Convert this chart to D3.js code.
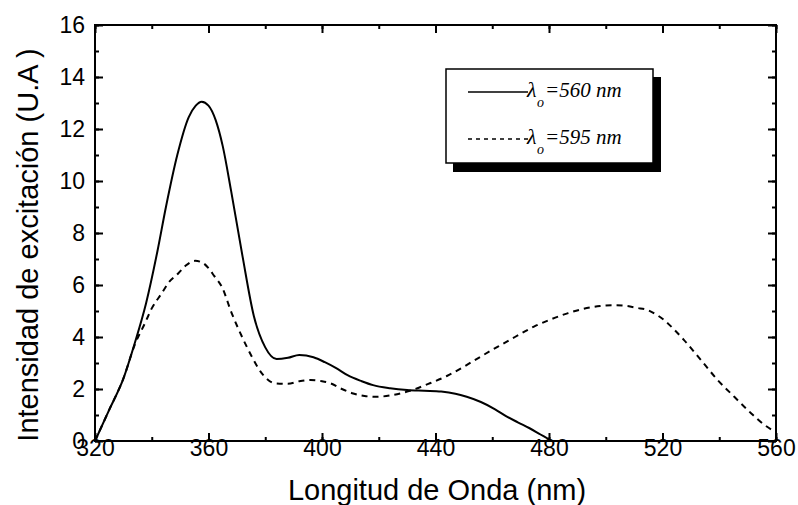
<!DOCTYPE html>
<html><head><meta charset="utf-8">
<script src="https://cdn.jsdelivr.net/npm/d3@7"></script>
<style>body{margin:0;background:#fff}svg{display:block}</style>
</head><body>
<svg id="chart" width="798" height="505"></svg>
<script>
// ---- data ----
const xTicks = [320, 360, 400, 440, 480, 520, 560];
const yTicks = [0, 2, 4, 6, 8, 10, 12, 14, 16];
const seriesNames = ["=560 nm", "=595 nm"];
const wl560 = [320, 325, 330, 334, 338, 342, 345, 349, 353, 355.5, 357.6, 360, 362.5, 365, 368, 372, 376, 380, 384, 388, 392, 397, 401, 405, 409, 414, 418, 424, 430, 436, 442, 447, 451, 456, 461, 465, 469, 473, 477, 481];
const int560 = [0, 1.2, 2.4, 3.76, 5.3, 7.3, 9.0, 11.0, 12.45, 12.9, 13.05, 12.9, 12.35, 11.35, 9.6, 7.1, 4.8, 3.6, 3.15, 3.2, 3.31, 3.22, 3.03, 2.8, 2.53, 2.3, 2.15, 2.03, 1.96, 1.93, 1.9, 1.82, 1.7, 1.5, 1.22, 0.95, 0.72, 0.5, 0.25, 0];
const wl595 = [320, 325, 330, 334, 337.6, 340, 343.5, 346, 349.4, 352, 355.3, 358, 360, 362, 364.7, 368.2, 371.8, 375.3, 378.8, 383.5, 388, 392, 396, 400, 403, 407, 411, 415, 419, 424, 430, 438, 444, 450, 456, 462, 468, 474.7, 480, 486.5, 492, 498, 503, 507.6, 511, 514.7, 518, 520.6, 524, 527.6, 533.5, 539.4, 545.3, 551.2, 555.9, 559];
const int595 = [0, 1.2, 2.4, 3.7, 4.53, 5.1, 5.68, 6.1, 6.45, 6.75, 6.93, 6.85, 6.65, 6.35, 5.93, 4.91, 4.01, 3.24, 2.6, 2.22, 2.2, 2.3, 2.35, 2.3, 2.22, 2.0, 1.83, 1.73, 1.7, 1.75, 1.9, 2.22, 2.5, 2.86, 3.25, 3.63, 4.0, 4.4, 4.65, 4.91, 5.08, 5.19, 5.22, 5.19, 5.12, 5.04, 4.85, 4.65, 4.3, 3.88, 3.12, 2.35, 1.7, 1.07, 0.62, 0.4];

// ---- layout ----
const L = 95, R = 776, T = 25, B = 441;
const svg = d3.select("#chart");
const x = d3.scaleLinear().domain([320, 560]).range([L, R]);
const y = d3.scaleLinear().domain([0, 16]).range([B, T]);

const minorX = d3.range(320, 561, 20);
const minorY = d3.range(0, 17, 1);

function styleAxis(g){
  g.select(".domain").remove();
  g.selectAll("line").attr("stroke", "#000").attr("stroke-width", 2);
}

// minor ticks
svg.append("g").attr("transform", `translate(0,${B})`)
  .call(d3.axisBottom(x).tickValues(minorX).tickSize(-4).tickFormat(""))
  .call(styleAxis);
svg.append("g").attr("transform", `translate(0,${T})`)
  .call(d3.axisTop(x).tickValues(minorX).tickSize(-4).tickFormat(""))
  .call(styleAxis);
svg.append("g").attr("transform", `translate(${L},0)`)
  .call(d3.axisLeft(y).tickValues(minorY).tickSize(-4).tickFormat(""))
  .call(styleAxis);
svg.append("g").attr("transform", `translate(${R},0)`)
  .call(d3.axisRight(y).tickValues(minorY).tickSize(-4).tickFormat(""))
  .call(styleAxis);

// major ticks with labels
const gx = svg.append("g").attr("transform", `translate(0,${B})`)
  .call(d3.axisBottom(x).tickValues(xTicks).tickSize(-8).tickPadding(-1).tickFormat(d3.format("d")))
  .call(styleAxis);
gx.selectAll("text").attr("font-family", "Liberation Sans, Arial, sans-serif").attr("font-size", 23).attr("fill", "#000");

const gy = svg.append("g").attr("transform", `translate(${L},0)`)
  .call(d3.axisLeft(y).tickValues(yTicks).tickSize(-8).tickPadding(10).tickFormat(d3.format("d")))
  .call(styleAxis);
gy.selectAll("text").attr("font-family", "Liberation Sans, Arial, sans-serif").attr("font-size", 23).attr("fill", "#000");

svg.append("g").attr("transform", `translate(0,${T})`)
  .call(d3.axisTop(x).tickValues(xTicks).tickSize(-8).tickFormat(""))
  .call(styleAxis);
svg.append("g").attr("transform", `translate(${R},0)`)
  .call(d3.axisRight(y).tickValues(yTicks).tickSize(-8).tickFormat(""))
  .call(styleAxis);

// frame
svg.append("rect").attr("x", L).attr("y", T).attr("width", R - L).attr("height", B - T)
  .attr("fill", "none").attr("stroke", "#000").attr("stroke-width", 2);

// curves
const line = d3.line().x(d => x(d[0])).y(d => y(d[1])).curve(d3.curveMonotoneX);
svg.append("path").datum(wl560.map((w, i) => [w, int560[i]]))
  .attr("d", line).attr("fill", "none").attr("stroke", "#000").attr("stroke-width", 2);
svg.append("path").datum(wl595.map((w, i) => [w, int595[i]]))
  .attr("d", line).attr("fill", "none").attr("stroke", "#000").attr("stroke-width", 2)
  .attr("stroke-dasharray", "6,5");

// axis titles
svg.append("text").attr("x", 437).attr("y", 500).attr("text-anchor", "middle")
  .attr("font-family", "Liberation Sans, Arial, sans-serif").attr("font-size", 29)
  .text("Longitud de Onda (nm)");
svg.append("text").attr("transform", "translate(38,245) rotate(-90)").attr("text-anchor", "middle")
  .attr("font-family", "Liberation Sans, Arial, sans-serif").attr("font-size", 29)
  .text("Intensidad de excitación (U.A )");

// legend
const lg = svg.append("g");
lg.append("rect").attr("x", 453).attr("y", 77).attr("width", 208).attr("height", 95).attr("fill", "#000");
lg.append("rect").attr("x", 446).attr("y", 69).attr("width", 207).attr("height", 94)
  .attr("fill", "#fff").attr("stroke", "#000").attr("stroke-width", 1.5);
const rows = [{yy: 92, dash: null}, {yy: 139, dash: "4,4"}];
rows.forEach((r, i) => {
  lg.append("line").attr("x1", 468).attr("x2", 528).attr("y1", r.yy).attr("y2", r.yy)
    .attr("stroke", "#000").attr("stroke-width", 1.5).attr("stroke-dasharray", r.dash);
  const f = "Liberation Serif, Times New Roman, serif";
  lg.append("text").attr("x", 527).attr("y", r.yy + 5).attr("font-family", f).attr("font-style", "italic")
    .attr("font-size", 22).text("λ");
  lg.append("text").attr("x", 537).attr("y", r.yy + 15).attr("font-family", f).attr("font-style", "italic")
    .attr("font-size", 14).text("o");
  lg.append("text").attr("x", 545).attr("y", r.yy + 5).attr("font-family", f).attr("font-style", "italic")
    .attr("font-size", 21).text(seriesNames[i]);
});
</script>
</body></html>
